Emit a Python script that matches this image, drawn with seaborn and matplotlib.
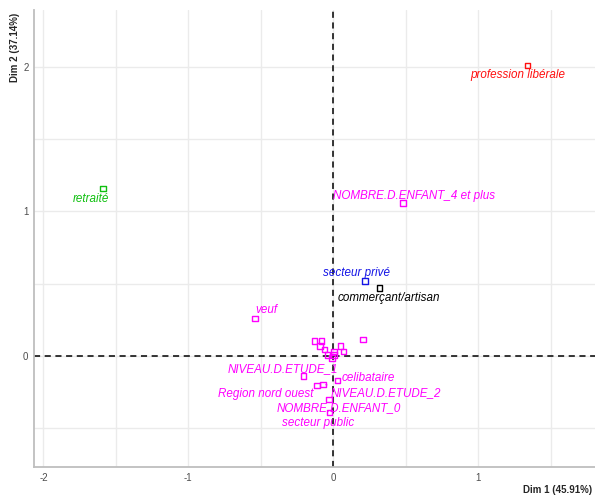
import matplotlib
matplotlib.use("Agg")
import matplotlib.pyplot as plt
import seaborn as sns
import pandas as pd

# MCA variable categories: coordinates on Dim 1 / Dim 2
categories = [
    "profession libérale", "retraité", "NOMBRE.D.ENFANT_4 et plus",
    "secteur privé", "commerçant/artisan", "veuf",
    "", "", "", "", "", "", "", "", "", "", "",
    "NIVEAU.D.ETUDE_1", "celibataire", "Region nord ouest",
    "NIVEAU.D.ETUDE_2", "NOMBRE.D.ENFANT_0", "secteur public",
]
dim1 = [1.34, -1.59, 0.48, 0.22, 0.32, -0.54,
        -0.13, -0.08, -0.09, -0.06, -0.04, -0.01, 0.005, 0.005, 0.05, 0.07, 0.205,
        -0.205, 0.03, -0.11, -0.07, -0.03, -0.025]
dim2 = [2.01, 1.16, 1.06, 0.52, 0.47, 0.26,
        0.105, 0.105, 0.07, 0.045, 0.007, -0.015, 0.007, 0.03, 0.07, 0.03, 0.113,
        -0.138, -0.168, -0.203, -0.196, -0.30, -0.392]
group = ["profession libérale", "retraité", "autre", "secteur privé",
         "commerçant/artisan"] + ["autre"] * 18

palette = {
    "autre": "#FF00FF",
    "profession libérale": "#FF1010",
    "retraité": "#10C010",
    "secteur privé": "#1515E6",
    "commerçant/artisan": "#000000",
}

# label offsets (points) from each marker
offsets = {
    "profession libérale": (-7, -6.5),
    "retraité": (-8.5, -8),
    "NOMBRE.D.ENFANT_4 et plus": (8, 5),
    "secteur privé": (-6.5, 6),
    "commerçant/artisan": (7, -7),
    "veuf": (8, 6),
    "NIVEAU.D.ETUDE_1": (-15, 5),
    "celibataire": (22, 2),
    "Region nord ouest": (-37, -6.5),
    "NIVEAU.D.ETUDE_2": (45, -6.5),
    "NOMBRE.D.ENFANT_0": (7, -6.5),
    "secteur public": (-8, -7.5),
}

df = pd.DataFrame({"cat": categories, "x": dim1, "y": dim2, "grp": group})

sns.set_style("white")
plt.rcParams["font.family"] = ["Liberation Sans", "DejaVu Sans"]
plt.rcParams["axes.unicode_minus"] = False

fig = plt.figure(figsize=(5.95, 4.97), dpi=100)
ax = fig.add_axes([34 / 595, 30 / 497, 1 - 34 / 595, (467 - 10) / 497])

ax.set_xlim(-2.065, 1.807)
ax.set_ylim(-0.768, 2.394)

ax.set_xticks([-2, -1, 0, 1])
ax.set_yticks([0, 1, 2])
ax.set_xticks([-1.5, -0.5, 0.5, 1.5], minor=True)
ax.set_yticks([-0.5, 0.5, 1.5], minor=True)
ax.grid(True, which="both", color="#EBEBEB", linewidth=1.0)
ax.set_axisbelow(True)

ax.axhline(0, color="black", linestyle=(0, (4, 3)), linewidth=1.1, zorder=1)
ax.axvline(0, color="black", linestyle=(0, (4, 3)), linewidth=1.1, zorder=1)

sns.scatterplot(data=df, x="x", y="y", hue="grp", palette=palette, marker="s",
                s=16, linewidth=1.0, legend=False, ax=ax, zorder=3)
pts = ax.collections[-1]
pts.set_edgecolors(pts.get_facecolors())
pts.set_facecolors("none")

for _, r in df.iterrows():
    if not r["cat"]:
        continue
    dx, dy = offsets[r["cat"]]
    col = palette[r["grp"]]
    arrow = None
    if r["cat"] == "NIVEAU.D.ETUDE_2":
        arrow = dict(arrowstyle="-", color=col, lw=0.8, shrinkA=0, shrinkB=2)
    ax.annotate(r["cat"], (r["x"], r["y"]), xytext=(dx, dy),
                textcoords="offset points", ha="center", va="center",
                fontsize=8.4, style="italic", color=col, arrowprops=arrow,
                zorder=4)

for side in ["top", "right"]:
    ax.spines[side].set_visible(False)
for side in ["left", "bottom"]:
    ax.spines[side].set_color("#BEBEBE")
    ax.spines[side].set_linewidth(1.3)

ax.tick_params(axis="both", which="major", labelsize=7, labelcolor="#4D4D4D",
               color="#BEBEBE", length=2, width=0.8, pad=2)
ax.tick_params(axis="both", which="minor", length=0)
ax.set_xlabel("")
ax.set_ylabel("")

fig.text(592 / 595, 1 - 490 / 497, "Dim 1 (45.91%)", ha="right", va="center",
         fontsize=7, fontweight="bold")
fig.text(15 / 595, 1 - 13 / 497, "Dim 2 (37.14%)", ha="center", va="top",
         rotation=90, fontsize=7, fontweight="bold")

fig.savefig("out.png", dpi=100)
